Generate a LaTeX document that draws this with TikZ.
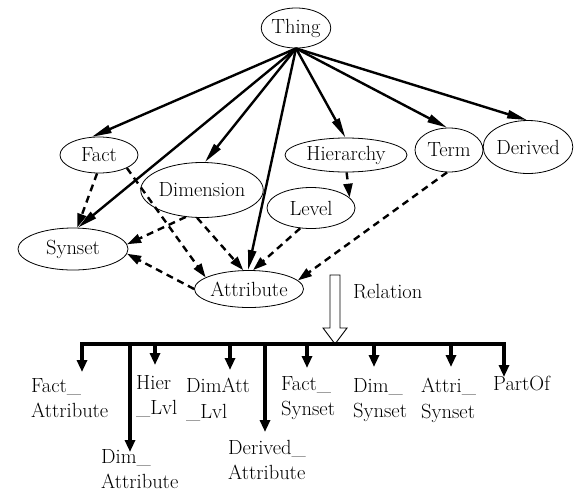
\documentclass[tikz,border=0pt]{standalone}
\usetikzlibrary{arrows.meta,shapes.geometric}
\begin{document}
\begin{tikzpicture}[x=1pt,y=-1pt,
  every node/.style={font=\rmfamily\fontsize{20.5}{25.5}\selectfont, inner sep=0pt},
  concept/.style={ellipse, draw, line width=0.8pt},
  isa/.style={line width=2.4pt, -{Triangle[length=20pt,width=8pt]}},
  rel/.style={line width=2.4pt, dash pattern=on 7pt off 5pt, -{Triangle[length=14pt,width=9pt]}},
  drop/.style={line width=3.2pt, -{Triangle[length=12pt,width=10pt]}},
  bar/.style={line width=3.2pt, line cap=rect},
  hollow/.style={line width=0.9pt, fill=white},
  lbl/.style={align=left, anchor=north west}]
\useasboundingbox (0,0) rectangle (577,493);

% concepts
\node[concept, minimum width=64pt, minimum height=40pt] (thing) at (296,28) {Thing};
\node[concept, minimum width=78pt, minimum height=36pt] (fact) at (99,155) {Fact};
\node[concept, minimum width=112pt, minimum height=55pt] (dim) at (202,190) {Dimension};
\node[concept, minimum width=122pt, minimum height=34pt] (hier) at (346,155) {Hierarchy};
\node[concept, minimum width=68pt, minimum height=44pt] (term) at (449,150) {Term};
\node[concept, minimum width=89pt, minimum height=53pt] (derived) at (528,147) {Derived};
\node[concept, minimum width=88pt, minimum height=41pt] (level) at (311,208) {Level};
\node[concept, minimum width=110pt, minimum height=42pt] (synset) at (73,249) {Synset};
\node[concept, minimum width=98pt, minimum height=37pt] (attr) at (249,289) {Attribute};

% is-a arrows from Thing
\foreach \t/\a in {fact/112, dim/84, synset/77, attr/93, hier/92, term/95, derived/92}
  \draw[isa] (thing.south) -- (\t.\a);

% dashed relations
\draw[rel] (fact.264) -- (synset.79);
\draw[rel] (fact.335) -- (attr.165);
\draw[rel] (dim.239) -- (synset.5);
\draw[rel] (dim.260) -- (attr.107);
\draw[rel] (hier.272) -- (level.15);
\draw[rel] (level.242) -- (attr.78);
\draw[rel] (term.265) -- (attr.10);
\draw[rel] (attr.180) -- (synset.355);

% Relation hollow arrow
\coordinate (rtop) at (335,275);
\coordinate (rtip) at (335,344);
\draw[hollow] ([xshift=-5pt]rtop) -- ([xshift=5pt]rtop) -- ([xshift=5pt]rtop |- 0,328)
  -- ([xshift=12pt]rtop |- 0,328) -- (rtip) -- ([xshift=-12pt]rtop |- 0,328)
  -- ([xshift=-5pt]rtop |- 0,328) -- cycle;
\node[anchor=west] (reltext) at (353,292) {Relation};

% bar
\coordinate (bl) at (82,344);
\coordinate (br) at (504,344);
\draw[bar] (bl) -- (br);

% labels
\node[lbl] (l1) at (31,378) {Fact\_\\Attribute};
\node[lbl] (l2) at (136,375) {Hier\\\_Lvl};
\node[lbl] (l3) at (186,378) {DimAtt\\\_Lvl};
\node[lbl] (l4) at (101,449) {Dim\_\\Attribute};
\node[lbl] (l5) at (228,440) {Derived\_\\Attribute};
\node[lbl] (l6) at (281,376) {Fact\_\\Synset};
\node[lbl] (l7) at (353,378) {Dim\_\\Synset};
\node[lbl] (l8) at (421,378) {Attri\_\\Synset};
\node[lbl] (l9) at (493,376) {PartOf};

% drops
\foreach \n/\x/\e in {a/82/372, b/130/452, c/155/365, d/230/370, e/265/432, f/307/368, g/374/367, h/451/367, i/504/377}{
  \coordinate (s\n) at (\x,344);
  \coordinate (t\n) at (\x,\e);
  \draw[drop] (s\n) -- (t\n);
}
\end{tikzpicture}
\end{document}
